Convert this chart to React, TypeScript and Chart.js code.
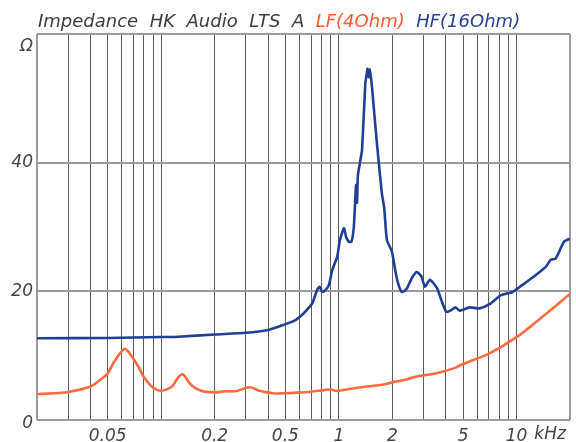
import React, { useEffect, useRef } from 'react';
import { Chart, registerables } from 'chart.js';

Chart.register(...registerables);

// ---- data ----
const lfFreq = [
  0.02, 0.03, 0.04, 0.0447, 0.05, 0.0542, 0.0617, 0.0655, 0.0747, 0.0798, 0.0895, 0.1,
  0.115, 0.1224, 0.132, 0.148, 0.169, 0.2, 0.227, 0.265, 0.315, 0.358, 0.424, 0.49,
  0.585, 0.695, 0.826, 0.9, 0.958, 1.0, 1.33, 1.72, 2.0, 2.4, 2.66, 3.1, 3.55, 4.5,
  5.0, 7.04, 10.1, 14.0, 20.0,
];
const lfImp = [
  4.0, 4.35, 5.2, 6.1, 7.25, 9.0, 11.0, 10.6, 8.2, 6.7, 5.1, 4.55,
  5.2, 6.3, 7.1, 5.4, 4.5, 4.3, 4.45, 4.5, 5.1, 4.55, 4.15, 4.15,
  4.25, 4.4, 4.65, 4.75, 4.55, 4.55, 5.1, 5.45, 5.85, 6.3, 6.7, 7.0, 7.25, 8.1,
  8.7, 10.35, 12.95, 16.05, 19.6,
];

const hfFreq = [
  0.02, 0.05, 0.1, 0.125, 0.2, 0.3, 0.4, 0.49, 0.56, 0.624, 0.68, 0.71,
  0.757, 0.78, 0.807, 0.84, 0.88, 0.918, 0.979, 1.014, 1.068, 1.1, 1.139, 1.177,
  1.214, 1.25, 1.265, 1.28, 1.322, 1.351, 1.409, 1.43, 1.45, 1.47, 1.49, 1.52,
  1.536, 1.638, 1.747, 1.8, 1.864, 1.987, 2.12, 2.26, 2.41, 2.57, 2.74, 2.92,
  3.05, 3.25, 3.55, 3.78, 4.03, 4.3, 4.53, 4.78, 5.44, 6.19, 7.04, 8.18,
  9.51, 10.8, 12.8, 14.6, 15.6, 16.6, 18.5, 20.0,
];
const hfImp = [
  12.7, 12.75, 12.9, 12.95, 13.3, 13.55, 14.0, 14.8, 15.4, 16.4, 17.5, 18.2,
  20.3, 20.7, 19.9, 20.2, 21.0, 23.3, 25.4, 28.0, 29.8, 28.4, 27.7, 27.7,
  30.0, 36.5, 33.8, 38.0, 40.4, 42.0, 52.3, 53.5, 54.6, 53.3, 54.5, 53.0,
  51.8, 43.0, 35.2, 33.0, 28.0, 26.2, 22.0, 19.9, 20.4, 22.0, 23.0, 22.3,
  20.7, 21.8, 20.6, 18.6, 16.8, 17.1, 17.5, 17.0, 17.5, 17.35, 18.0, 19.4,
  19.9, 21.0, 22.5, 23.8, 24.9, 25.1, 27.7, 28.2,
];

const gridFreqs = [
  0.02, 0.03, 0.04, 0.05, 0.06, 0.07, 0.08, 0.09, 0.1,
  0.2, 0.3, 0.4, 0.5, 0.6, 0.7, 0.8, 0.9, 1,
  2, 3, 4, 5, 6, 7, 8, 9, 10, 20,
];
const xLabelFreqs = [0.05, 0.2, 0.5, 1, 2, 5, 10];
const xLabelTexts = ['0.05', '0.2', '0.5', '1', '2', '5', '10'];
const xUnit = 'kHz';
const yTicks = [0, 20, 40, 60];
const yLabelTexts = ['0', '20', '40', 'Ω'];
const titleParts = ['Impedance HK Audio LTS A', 'LF(4Ohm)', 'HF(16Ohm)'];

// ---- styles ----
const BLUE = '#213f95';
const ORANGE = '#ff6a3e';
const TEXT = '#444444';
const TITLE_COLORS = ['#3c3c3c', '#ff5a2e', '#2a3f98'];
const FONT = '"DejaVu Sans", sans-serif';

const near = (a: number, b: number) => Math.abs(a - b) < 1e-9;

export default function App() {
  const ref = useRef<HTMLCanvasElement | null>(null);

  useEffect(() => {
    document.body.style.margin = '0';
    const canvas = ref.current;
    if (!canvas) return;

    const overlay = {
      id: 'overlay',
      afterDraw(chart: any) {
        const ctx = chart.ctx;
        const xs = chart.scales.x;
        const ys = chart.scales.y;
        const area = chart.chartArea;
        ctx.save();
        // title, word by word with wide gaps
        ctx.font = `italic 18px ${FONT}`;
        ctx.textBaseline = 'alphabetic';
        ctx.textAlign = 'left';
        let cx = 38;
        const gap = 11.5;
        titleParts.forEach((t, i) => {
          ctx.fillStyle = TITLE_COLORS[i];
          t.split(' ').forEach((w) => {
            ctx.fillText(w, cx, 27);
            cx += ctx.measureText(w).width + gap;
          });
        });
        // y labels for 0 and Ω (offset inward)
        ctx.font = `italic 17px ${FONT}`;
        ctx.fillStyle = TEXT;
        ctx.textAlign = 'right';
        ctx.textBaseline = 'middle';
        ctx.fillText(yLabelTexts[3], area.left - 4, ys.getPixelForValue(yTicks[3]) + 13);
        ctx.fillText(yLabelTexts[0], area.left - 4, ys.getPixelForValue(yTicks[0]) + 4);
        // unit after "10"
        ctx.textAlign = 'left';
        const tenX = xs.getPixelForValue(10);
        const w10 = ctx.measureText('10').width;
        ctx.fillText(xUnit, tenX + w10 / 2 + 7, area.bottom + 15);
        ctx.restore();
      },
    };

    const chart = new Chart(canvas, {
      type: 'line',
      data: {
        datasets: [
          {
            data: lfFreq.map((f, i) => ({ x: f, y: lfImp[i] })),
            borderColor: ORANGE,
            borderWidth: 2.6,
            pointRadius: 0,
            tension: 0.35,
            fill: false,
          },
          {
            data: hfFreq.map((f, i) => ({ x: f, y: hfImp[i] })),
            borderColor: BLUE,
            borderWidth: 2.6,
            pointRadius: 0,
            tension: 0.2,
            fill: false,
          },
        ],
      },
      options: {
        responsive: false,
        animation: false,
        layout: { padding: { top: 34, right: 1, left: 0, bottom: 0 } },
        plugins: {
          legend: { display: false },
          tooltip: { enabled: false },
          title: { display: false },
        },
        scales: {
          x: {
            type: 'logarithmic',
            min: 0.02,
            max: 20,
            afterBuildTicks: (s: any) => {
              s.ticks = gridFreqs.map((v) => ({ value: v }));
            },
            afterFit: (s: any) => {
              s.height = 22;
            },
            border: { display: false },
            grid: {
              drawTicks: false,
              color: (c: any) =>
                near(c.tick?.value, 0.02) || near(c.tick?.value, 20) ? '#9a9a9a' : '#5e5e5e',
              lineWidth: (c: any) =>
                near(c.tick?.value, 0.02) || near(c.tick?.value, 20) ? 2 : 1,
            },
            ticks: {
              autoSkip: false,
              maxRotation: 0,
              minRotation: 0,
              padding: 6,
              color: TEXT,
              font: { family: FONT, size: 17, style: 'italic' },
              callback: (v: any) => {
                const idx = xLabelFreqs.findIndex((f) => near(f, Number(v)));
                return idx >= 0 ? xLabelTexts[idx] : '';
              },
            },
          },
          y: {
            min: 0,
            max: 60,
            afterBuildTicks: (s: any) => {
              s.ticks = yTicks.map((v) => ({ value: v }));
            },
            afterFit: (s: any) => {
              s.width = 37;
            },
            border: { display: false },
            grid: {
              drawTicks: false,
              color: '#9a9a9a',
              lineWidth: 2,
            },
            ticks: {
              padding: 4,
              color: TEXT,
              font: { family: FONT, size: 17, style: 'italic' },
              callback: (v: any) => {
                const idx = yTicks.indexOf(Number(v));
                return idx === 1 || idx === 2 ? yLabelTexts[idx] : '';
              },
            },
          },
        },
      },
      plugins: [overlay],
    } as any);

    return () => chart.destroy();
  }, []);

  return (
    <div style={{ width: 576, height: 442, background: '#fff' }}>
      <canvas ref={ref} width={576} height={442} style={{ display: 'block' }} />
    </div>
  );
}
